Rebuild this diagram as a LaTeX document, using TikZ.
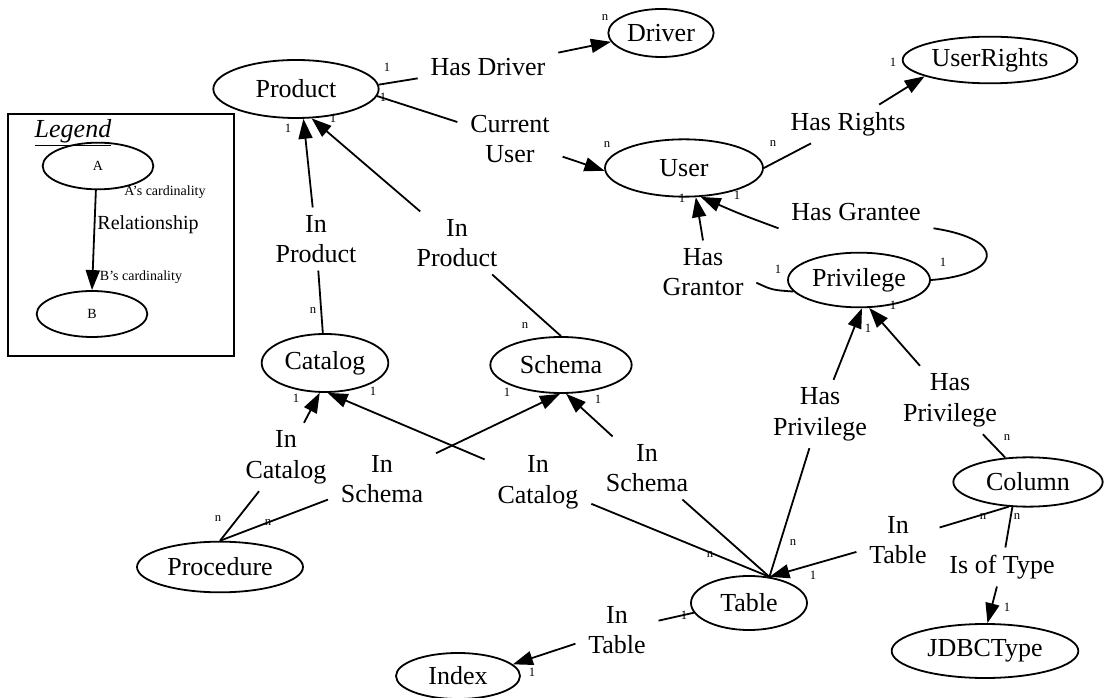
\documentclass[tikz,border=0pt]{standalone}
\usepackage{fontspec}
\setmainfont{Liberation Serif}
\usetikzlibrary{shapes.geometric,arrows.meta}

\begin{document}
\begin{tikzpicture}[
    x=0.75pt,
    y=-0.75pt,
    line width=1.35pt,
    entity/.style={draw,
        ellipse,
        inner sep=0pt,
        font=\fontsize{19.5}{23}\selectfont},
    rel/.style={align=center,
        inner xsep=9pt,
        inner ysep=5pt,
        font=\fontsize{19.5}{23}\selectfont},
    card/.style={inner sep=0pt, font=\fontsize{9.5}{10}\selectfont},
    arr/.style={-{Triangle[length=15pt,width=10.5pt]}}]

\useasboundingbox (0,0) rectangle (1104,698);

% Legend
\draw[line width=1.5pt] (8,114) rectangle (234,356);
\node[font=\fontsize{19.5}{21}\selectfont\itshape] (legtitle) at (73,133) {\underline{Legend}};
\node[entity, font=\fontsize{10.5}{12}\selectfont,
    minimum width=83pt, minimum height=35pt] (lega) at (98,166) {A};
\node[entity, font=\fontsize{10.5}{12}\selectfont,
    minimum width=83pt, minimum height=34.5pt] (legb) at (92,314) {B};
\draw[arr] (lega.-95) -- (legb.north);
\node[font=\fontsize{10.5}{12}\selectfont] (legacard) at (165,192) {A's cardinality};
\node[font=\fontsize{15}{16}\selectfont] (legrel) at (148,225) {Relationship};
\node[font=\fontsize{10.5}{12}\selectfont] (legbcard) at (141,277) {B's cardinality};

% Entities
\node[entity, minimum width=124pt, minimum height=43.5pt] (product) at (296,89) {Product};
\node[entity, minimum width=79pt, minimum height=36pt] (driver) at (661,33) {Driver};
\node[entity, minimum width=131pt, minimum height=35pt] (userrights) at (990,60) {UserRights};
\node[entity, minimum width=118.5pt, minimum height=43pt] (user) at (684,168) {User};
\node[entity, minimum width=106.5pt, minimum height=41pt] (privilege) at (859,280) {Privilege};
\node[entity, minimum width=95pt, minimum height=43.5pt] (catalog) at (325,363) {Catalog};
\node[entity, minimum width=106pt, minimum height=42pt] (schema) at (561,365) {Schema};
\node[entity, minimum width=124.5pt, minimum height=38pt] (procedure) at (220,567) {Procedure};
\node[entity, minimum width=93pt, minimum height=34.5pt] (index) at (458,676) {Index};
\node[entity, minimum width=87pt, minimum height=40.5pt] (table) at (749,603) {Table};
\node[entity, minimum width=112pt, minimum height=37pt] (column) at (1028,482) {Column};
\node[entity, minimum width=140pt, minimum height=40.5pt] (jdbctype) at (985,651) {JDBCType};

% Relationships
\node[rel] (hasdriver) at (488,67) {Has Driver};
\node[rel] (curuser) at (510,139) {Current\\User};
\node[rel] (hasrights) at (848,124) {Has Rights};
\node[rel] (inprod1) at (316,239) {In\\Product};
\node[rel] (inprod2) at (457,243) {In\\Product};
\node[rel] (hasgrantee) at (856,212) {Has Grantee};
\node[rel] (hasgrantor) at (703,272) {Has\\Grantor};
\node[rel] (haspriv1) at (820,414) {Has\\Privilege};
\node[rel] (haspriv2) at (950,400) {Has\\Privilege};
\node[rel] (incat1) at (286,457) {In\\Catalog};
\node[rel] (inschema1) at (382,479) {In\\Schema};
\node[rel] (incat2) at (538,482) {In\\Catalog};
\node[rel] (inschema2) at (647,468) {In\\Schema};
\node[rel] (intable1) at (898,540) {In\\Table};
\node[rel] (istype) at (1002,567) {Is of Type};
\node[rel] (intable2) at (617,630) {In\\Table};

% Connectors
\draw (product.3) -- (hasdriver);
\draw[arr] (hasdriver) -- (driver.190);
\draw (product.-5) -- (curuser);
\draw[arr] (curuser) -- (user.182);
\draw (user.east) -- (hasrights);
\draw[arr] (hasrights) -- (userrights.194);
\draw (catalog) -- (inprod1);
\draw[arr] (inprod1) -- (product.-76);
\draw (schema.north) -- (inprod2);
\draw[arr] (inprod2) -- (product.-62);
\draw (privilege.east) .. controls (1000,275) and (1010,240) .. (hasgrantee.south east);
\draw[arr] (hasgrantee.south west) .. controls (740,214) .. (user.-60);
\draw (privilege.190) .. controls (772,290) .. ([yshift=-8pt]hasgrantor.east);
\draw[arr] (hasgrantor.north) .. controls (700,222) .. (user.-68);
\draw (table.52) -- (haspriv1);
\draw[arr] (haspriv1) -- (privilege.-84);
\draw (column.133) -- (haspriv2);
\draw[arr] (haspriv2) -- (privilege.-70);
\draw (procedure.north) -- (incat1);
\draw[arr] (incat1) -- (catalog.-100);
\draw (procedure.north) -- (inschema1);
\draw[arr] (inschema1) -- (schema.-92);
\draw (table.52) -- (incat2);
\draw[arr] (incat2) -- (catalog.-85);
\draw (table.52) -- (inschema2);
\draw[arr] (inschema2) -- (schema.-80);
\draw (column.-128) -- (intable1);
\draw[arr] (intable1) -- (table.52);
\draw (column.-122) -- (istype);
\draw[arr] (istype) -- (jdbctype.85);
\draw (table.190) -- (intable2);
\draw[arr] (intable2) -- (index.12);

% Cardinalities
\node[card] (cprod1) at (387,67) {1};
\node[card] (cprod2) at (383,97) {1};
\node[card] (cprod3) at (288,128) {1};
\node[card] (cprod4) at (333,118) {1};
\node[card] (cdriver) at (605,18) {n};
\node[card] (cuser1) at (607,145) {n};
\node[card] (cuser2) at (773,144) {n};
\node[card] (cuser3) at (682,198) {1};
\node[card] (cuser4) at (737,195) {1};
\node[card] (crights) at (893,62) {1};
\node[card] (ccat1) at (313,311) {n};
\node[card] (ccat2) at (296,398) {1};
\node[card] (ccat3) at (373,391) {1};
\node[card] (cschema1) at (525,326) {n};
\node[card] (cschema2) at (507,392) {1};
\node[card] (cschema3) at (598,399) {1};
\node[card] (cpriv1) at (778,269) {1};
\node[card] (cpriv2) at (943,262) {1};
\node[card] (cpriv3) at (868,328) {1};
\node[card] (cpriv4) at (893,305) {1};
\node[card] (cproc1) at (218,519) {n};
\node[card] (cproc2) at (268,523) {n};
\node[card] (ctable1) at (793,543) {n};
\node[card] (ctable2) at (710,555) {n};
\node[card] (ctable3) at (813,575) {1};
\node[card] (ctable4) at (684,615) {1};
\node[card] (cindex) at (532,672) {1};
\node[card] (ccol1) at (1007,438) {n};
\node[card] (ccol2) at (983,517) {n};
\node[card] (ccol3) at (1017,517) {n};
\node[card] (cjdbc) at (1007,607) {1};

\end{tikzpicture}
\end{document}
